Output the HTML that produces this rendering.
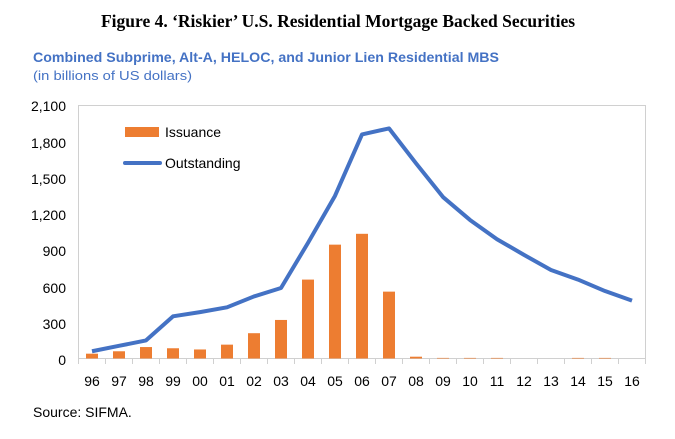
<!DOCTYPE html>
<html><head><meta charset="utf-8"><style>
body{margin:0;background:#fff;}
svg{display:block;}
</style></head><body>
<svg width="675" height="439" xmlns="http://www.w3.org/2000/svg">
<text x="338" y="27" text-anchor="middle" font-family="Liberation Serif, serif" font-weight="bold" font-size="17.5" fill="#000">Figure 4. ‘Riskier’ U.S. Residential Mortgage Backed Securities</text>
<text x="33" y="62" font-family="Liberation Sans, sans-serif" font-weight="bold" font-size="13.5" fill="#4472C4" textLength="466" lengthAdjust="spacingAndGlyphs">Combined Subprime, Alt-A, HELOC, and Junior Lien Residential MBS</text>
<text x="33" y="80" font-family="Liberation Sans, sans-serif" font-size="13" fill="#4472C4" textLength="159" lengthAdjust="spacingAndGlyphs">(in billions of US dollars)</text>
<rect x="78.5" y="105.5" width="567" height="253" fill="none" stroke="#d0d0d0" stroke-width="1"/>
<g font-family="Liberation Sans, sans-serif" font-size="14" fill="#000" text-anchor="end">
<text x="66" y="111">2,100</text><text x="66" y="148">1,800</text><text x="66" y="184">1,500</text>
<text x="66" y="220">1,200</text><text x="66" y="256">900</text><text x="66" y="293">600</text>
<text x="66" y="329">300</text><text x="66" y="365">0</text>
</g>
<g stroke="#d0d0d0" stroke-width="1" id="ticks"></g>
<g id="bars" fill="#ED7D31"></g>
<polyline id="line" fill="none" stroke="#4472C4" stroke-width="4" stroke-linejoin="round" points=""/>
<g id="xl" font-family="Liberation Sans, sans-serif" font-size="14" fill="#000" text-anchor="middle"></g>
<rect x="125" y="127" width="34" height="10" fill="#ED7D31"/>
<text x="165" y="137" font-family="Liberation Sans, sans-serif" font-size="14" fill="#000">Issuance</text>
<line x1="125" y1="163" x2="160" y2="163" stroke="#4472C4" stroke-width="4" stroke-linecap="round"/>
<text x="165" y="168" font-family="Liberation Sans, sans-serif" font-size="14" fill="#000">Outstanding</text>
<text x="33" y="417" font-family="Liberation Sans, sans-serif" font-size="14" fill="#000">Source: SIFMA.</text>
<script>
var ns="http://www.w3.org/2000/svg";
var labs=["96","97","98","99","00","01","02","03","04","05","06","07","08","09","10","11","12","13","14","15","16"];
var out=[60,105,150,350,385,425,515,585,960,1350,1860,1910,1620,1340,1150,990,860,735,655,560,480];
var iss=[40,60,95,85,75,115,210,320,655,945,1035,555,15,5,5,5,0,0,5,5,0];
function Y(v){return 358.5-v*253/2100;}
var pts=[];
for(var i=0;i<21;i++){
 var cx=78.5+27*(i+0.5);
 pts.push(cx+","+Y(out[i]));
 if(iss[i]>0){var r=document.createElementNS(ns,"rect");r.setAttribute("x",cx-6);r.setAttribute("width",12);r.setAttribute("y",Y(iss[i]));r.setAttribute("height",358.5-Y(iss[i]));document.getElementById("bars").appendChild(r);}
 var t=document.createElementNS(ns,"text");t.setAttribute("x",cx);t.setAttribute("y",386);t.textContent=labs[i];document.getElementById("xl").appendChild(t);
}
for(var i=0;i<=21;i++){var l=document.createElementNS(ns,"line");var x=78.5+27*i;l.setAttribute("x1",x);l.setAttribute("x2",x);l.setAttribute("y1",358.5);l.setAttribute("y2",364);document.getElementById("ticks").appendChild(l);}
document.getElementById("line").setAttribute("points",pts.join(" "));
</script>
</svg>
</body></html>
